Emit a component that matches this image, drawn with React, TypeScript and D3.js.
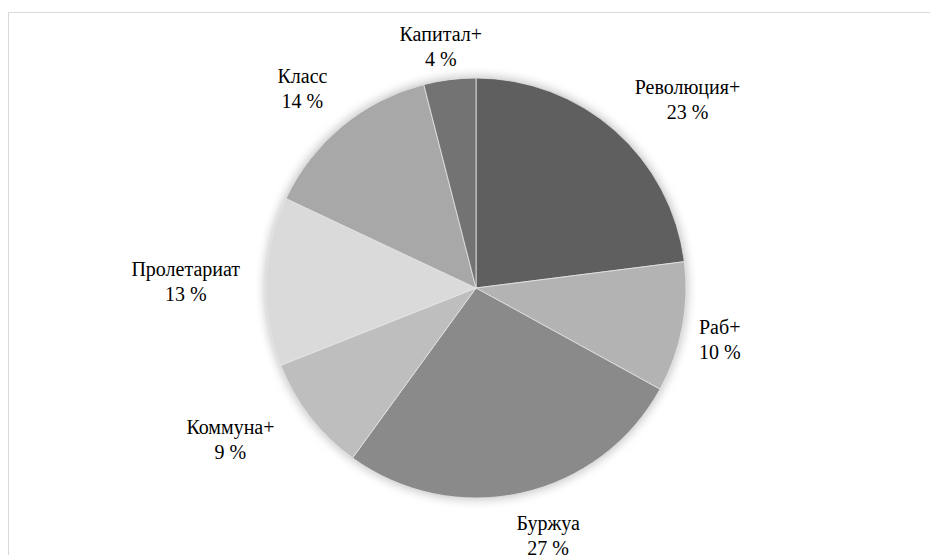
import React from "react";
import * as d3 from "d3";

const categories = ["Революция+", "Раб+", "Буржуа", "Коммуна+", "Пролетариат", "Класс", "Капитал+"];
const values = [23, 10, 27, 9, 13, 14, 4];
const colors = ["#5f5f5f", "#b3b3b3", "#8a8a8a", "#bebebe", "#dadada", "#a8a8a8", "#737373"];

// layout nudges for label placement (Excel "best fit" style)
const labelShift: [number, number][] = [
  [36, 12],
  [-5, 5],
  [16, -3],
  [-30, -15],
  [-4, 3],
  [-5, 5],
  [-3, 15],
];

const W = 930;
const H = 555;
const CX = 476;
const CY = 288;
const R = 210;
const FAMILY = "'Liberation Serif', Tinos, 'Times New Roman', 'DejaVu Serif', 'Noto Serif', FreeSerif, serif";
const FSIZE = 20;
const LINE = 25;
const PAD = 22;

function measure(text: string): number {
  const c = document.createElement("canvas").getContext("2d");
  if (!c) return text.length * 9;
  c.font = `${FSIZE}px ${FAMILY}`;
  return c.measureText(text).width;
}

export default function App() {
  const pie = d3.pie<number>().sort(null).value((d) => d);
  const arcs = pie(values);
  const arc = d3.arc<d3.PieArcDatum<number>>().innerRadius(0).outerRadius(R);
  const total = d3.sum(values);

  const labels = arcs.map((a, i) => {
    const mid = (a.startAngle + a.endAngle) / 2;
    const s = Math.sin(mid);
    const c = -Math.cos(mid);
    const l1 = categories[i];
    const l2 = `${Math.round((values[i] / total) * 100)} %`;
    const w = Math.max(measure(l1), measure(l2));
    const h = LINE * 2;
    const t = Math.min(
      Math.abs(s) > 1e-6 ? w / 2 / Math.abs(s) : Infinity,
      Math.abs(c) > 1e-6 ? h / 2 / Math.abs(c) : Infinity
    );
    const rr = R + PAD + t;
    return { x: CX + s * rr + labelShift[i][0], y: CY + c * rr + labelShift[i][1], l1, l2 };
  });

  return (
    <svg width={W} height={H} style={{ position: "absolute", left: 0, top: 0, background: "#fff" }}>
      <defs>
        <filter id="sh" x="-20%" y="-20%" width="140%" height="140%">
          <feGaussianBlur stdDeviation="5" />
        </filter>
      </defs>
      <line x1={8} y1={12.5} x2={W} y2={12.5} stroke="#d9d9d9" strokeWidth={1} />
      <line x1={8.5} y1={12} x2={8.5} y2={H} stroke="#d9d9d9" strokeWidth={1} />
      <circle cx={CX} cy={CY} r={R + 2} fill="#9a9a9a" opacity={0.55} filter="url(#sh)" />
      <g transform={`translate(${CX},${CY})`}>
        {arcs.map((a, i) => (
          <path key={i} d={arc(a) || ""} fill={colors[i]} stroke="#e6e6e6" strokeWidth={0.8} />
        ))}
      </g>
      {labels.map((l, i) => (
        <text
          key={i}
          x={l.x}
          y={l.y}
          textAnchor="middle"
          fontFamily={FAMILY}
          fontSize={FSIZE}
          fill="#000"
        >
          <tspan x={l.x} dy={-LINE / 2 + 6}>{l.l1}</tspan>
          <tspan x={l.x} dy={LINE}>{l.l2}</tspan>
        </text>
      ))}
    </svg>
  );
}
